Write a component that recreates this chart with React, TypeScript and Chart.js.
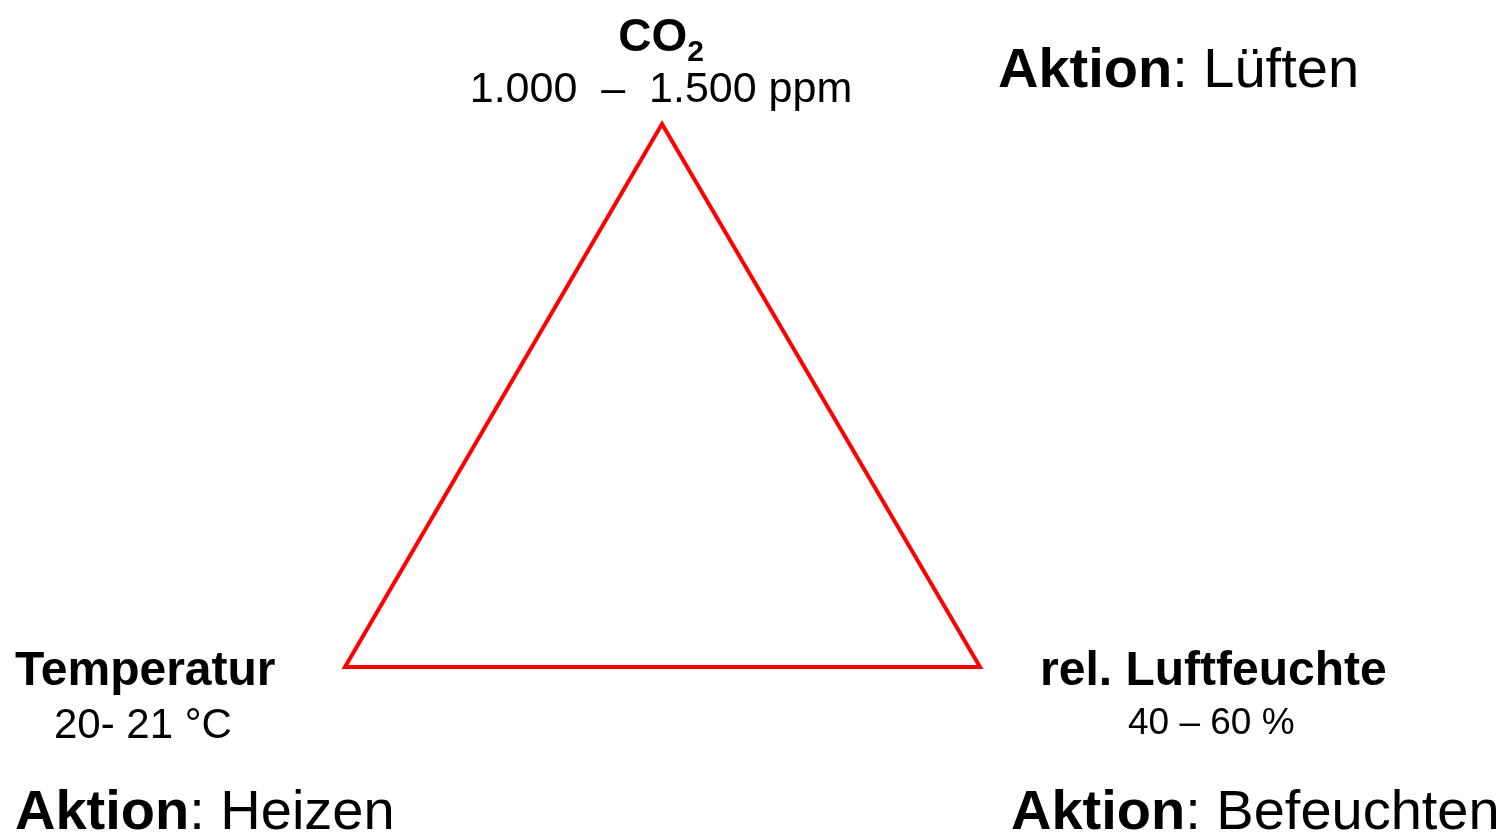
import React, { useEffect, useRef } from "react";
import { Chart, registerables } from "chart.js";

Chart.register(...registerables);

// Triangle vertices (Temperatur, CO2, rel. Luftfeuchte, back to start, up to apex to close the corner)
const vertexLabels = ["Temperatur", "CO2", "rel. Luftfeuchte", "Temperatur", "CO2"];
const vertexX = [345, 662, 980, 345, 662];
const vertexY = [667, 124, 667, 667, 124];

const cornerTitles = ["CO", "Temperatur", "rel. Luftfeuchte"];
const cornerRanges = ["1.000  \u2013  1.500 ppm", "20- 21 \u00b0C", "40 \u2013 60 %"];
const actionWord = "Aktion";
const actions = [": L\u00fcften", ": Heizen", ": Befeuchten"];

const FONT = "'Liberation Sans', Arial, Helvetica, sans-serif";

const textPlugin = {
  id: "textPlugin",
  afterDraw(chart: any) {
    const ctx = chart.ctx as CanvasRenderingContext2D;
    ctx.save();
    ctx.fillStyle = "#000";
    ctx.textBaseline = "alphabetic";

    // CO2 title
    ctx.font = `bold 46px ${FONT}`;
    ctx.textAlign = "left";
    const coW = ctx.measureText(cornerTitles[0]).width;
    ctx.font = `bold 30px ${FONT}`;
    const subW = ctx.measureText("2").width;
    const startX = 661 - (coW + subW) / 2;
    ctx.font = `bold 46px ${FONT}`;
    ctx.fillText(cornerTitles[0], startX, 51);
    ctx.font = `bold 30px ${FONT}`;
    ctx.fillText("2", startX + coW, 61);

    ctx.font = `43px ${FONT}`;
    ctx.textAlign = "center";
    ctx.fillText(cornerRanges[0], 661, 102);

    // Temperatur
    ctx.textAlign = "left";
    ctx.font = `bold 48px ${FONT}`;
    ctx.fillText(cornerTitles[1], 15, 685);
    ctx.font = `42px ${FONT}`;
    ctx.fillText(cornerRanges[1], 54, 738);

    // rel. Luftfeuchte
    ctx.font = `bold 48px ${FONT}`;
    ctx.fillText(cornerTitles[2], 1040, 685);
    ctx.font = `37px ${FONT}`;
    ctx.fillText(cornerRanges[2], 1128, 734);

    // Actions
    const drawAction = (x: number, y: number, rest: string) => {
      ctx.font = `bold 56px ${FONT}`;
      ctx.fillText(actionWord, x, y);
      const w = ctx.measureText(actionWord).width;
      ctx.font = `56px ${FONT}`;
      ctx.fillText(rest, x + w, y);
    };
    drawAction(998, 87, actions[0]);
    drawAction(15, 829, actions[1]);
    drawAction(1011, 829, actions[2]);

    ctx.restore();
  },
};

export default function App() {
  const canvasRef = useRef<HTMLCanvasElement | null>(null);

  useEffect(() => {
    document.body.style.margin = "0";
    const canvas = canvasRef.current;
    if (!canvas) return;
    const chart = new Chart(canvas, {
      type: "scatter",
      data: {
        labels: vertexLabels,
        datasets: [
          {
            data: vertexX.map((x, i) => ({ x, y: vertexY[i] })),
            showLine: true,
            borderColor: "#ff0000",
            backgroundColor: "#ff0000",
            borderWidth: 4,
            pointRadius: 0,
            fill: false,
            tension: 0,
            borderJoinStyle: "miter",
          } as any,
        ],
      },
      options: {
        animation: false,
        responsive: true,
        maintainAspectRatio: false,
        layout: { padding: 0 },
        plugins: {
          legend: { display: false },
          tooltip: { enabled: false },
          title: { display: false },
        },
        scales: {
          x: { type: "linear", min: 0, max: 1500, display: false },
          y: { type: "linear", min: 0, max: 835, reverse: true, display: false },
        },
      },
      plugins: [textPlugin],
    });
    return () => chart.destroy();
  }, []);

  return (
    <div style={{ width: 1500, height: 835, position: "relative", background: "#fff" }}>
      <canvas ref={canvasRef} />
    </div>
  );
}
